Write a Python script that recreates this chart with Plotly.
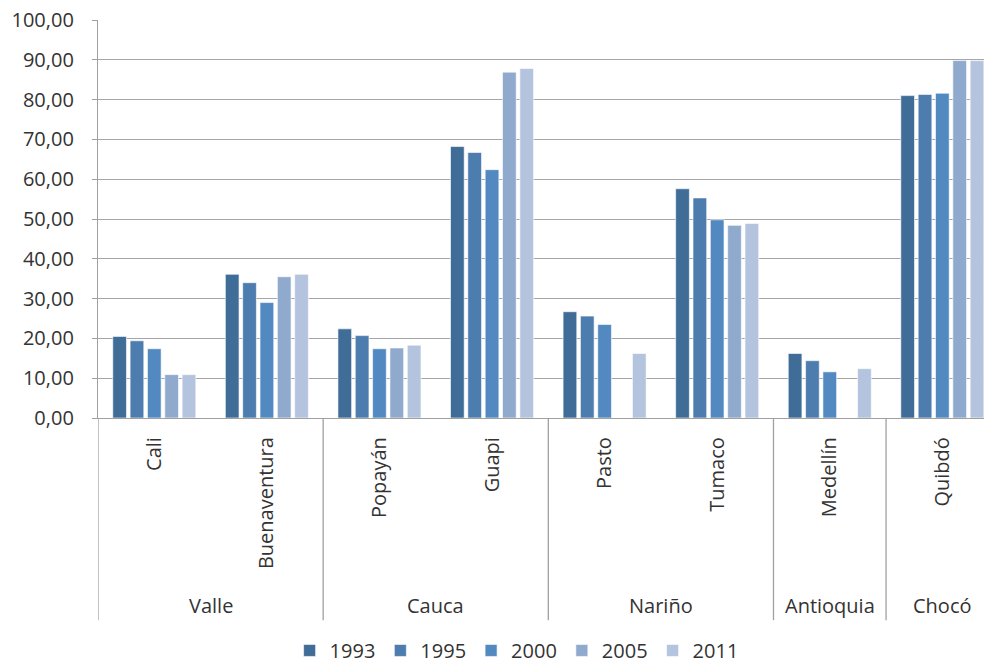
import plotly.graph_objects as go

# Cities grouped by department
cities = ["Cali", "Buenaventura", "Popayán", "Guapi", "Pasto", "Tumaco", "Medellín", "Quibdó"]
departments = ["Valle", "Cauca", "Nariño", "Antioquia", "Chocó"]
dept_centers = [0.5, 2.5, 4.5, 6.0, 7.0]
dept_dividers = [-0.5, 1.5, 3.5, 5.5, 6.5]

years = ["1993", "1995", "2000", "2005", "2011"]
v1993 = [20.5, 36.1, 22.4, 68.2, 26.7, 57.6, 16.2, 81.0]
v1995 = [19.4, 34.0, 20.7, 66.7, 25.6, 55.3, 14.4, 81.3]
v2000 = [17.4, 29.0, 17.4, 62.4, 23.5, 49.8, 11.6, 81.6]
v2005 = [10.9, 35.5, 17.6, 86.9, None, 48.4, None, 89.8]
v2011 = [10.9, 36.1, 18.3, 87.8, 16.2, 48.9, 12.4, 89.8]

series = [v1993, v1995, v2000, v2005, v2011]
colors = ["#3F6D97", "#4D7CAE", "#5289C1", "#90AACE", "#B4C4DE"]

FONT = "Open Sans"
TXT = "#333333"
GRID = "#A6A6A6"

fig = go.Figure()
for name, vals, col in zip(years, series, colors):
    fig.add_trace(go.Bar(
        x=cities, y=vals, name=name,
        marker=dict(color=col, line=dict(color="rgba(255,255,255,0.6)", width=1)),
    ))

# Department labels under the city names
for dep, xc in zip(departments, dept_centers):
    fig.add_annotation(
        x=xc, y=-0.47, xref="x", yref="paper", text=dep, showarrow=False,
        xanchor="center", yanchor="middle",
        font=dict(family=FONT, size=20, color=TXT),
    )

# Vertical separators between department groups
for xd in dept_dividers:
    fig.add_shape(
        type="line", xref="x", yref="paper", x0=xd, x1=xd, y0=0, y1=-0.508,
        line=dict(color="#A0A0A0", width=1.3),
    )

fig.update_layout(
    width=984, height=664,
    margin=dict(l=98, r=0, t=20, b=246, autoexpand=False),
    paper_bgcolor="white", plot_bgcolor="white",
    barmode="group", bargap=0.23, bargroupgap=0.21,
    separators=",.",
    showlegend=True,
    legend=dict(
        orientation="h", x=0.525, xanchor="center", xref="container",
        y=-0.584, yref="paper", yanchor="middle",
        font=dict(family=FONT, size=20, color=TXT),
        itemwidth=30, tracegroupgap=0,
    ),
    font=dict(family=FONT, size=20, color=TXT),
)

fig.update_xaxes(
    type="category", range=[-0.5, 7.37],
    tickangle=-90, tickfont=dict(family=FONT, size=20, color=TXT),
    showline=True, linecolor="#A0A0A0", linewidth=1.3,
    showgrid=False, ticks="", ticklabelstandoff=10,
)
fig.update_yaxes(
    range=[0, 100], dtick=10, tickformat=".2f",
    tickfont=dict(family=FONT, size=20, color=TXT),
    showgrid=True, gridcolor=GRID, gridwidth=1.3,
    showline=True, linecolor="#A0A0A0", linewidth=1.3,
    ticks="outside", ticklen=5, tickcolor="#A0A0A0",
    ticklabelstandoff=14, zeroline=False,
)

fig.write_html("out.html")
